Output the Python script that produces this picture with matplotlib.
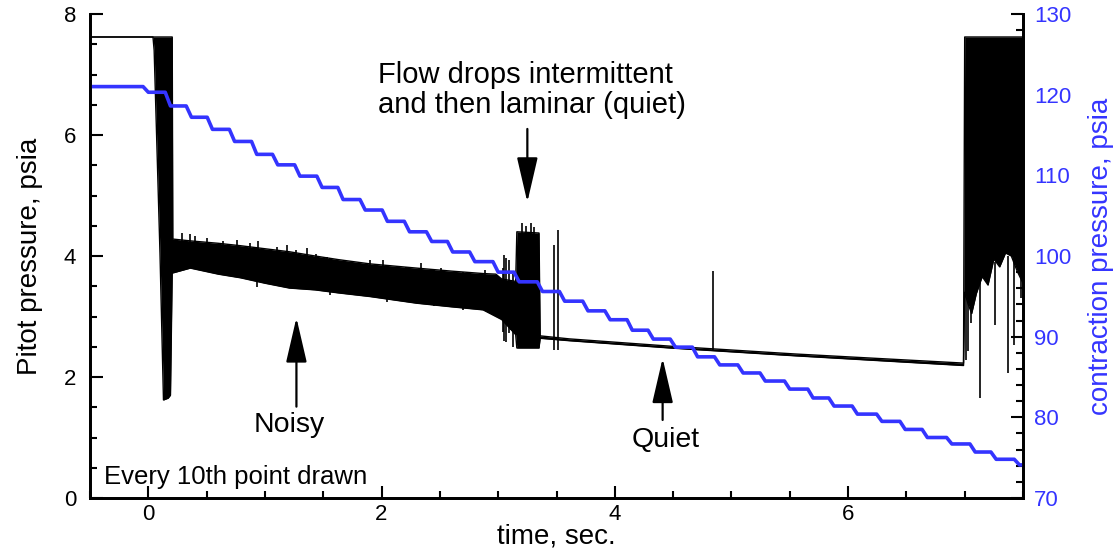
import numpy as np
import matplotlib
matplotlib.use('Agg')
import matplotlib.pyplot as plt

plt.rcParams['font.family'] = ['Liberation Sans', 'DejaVu Sans']

# Pitot pressure (every 10th point): upper/lower envelope of the trace, psia
env_t = [-0.5, 0.04, 0.05, 0.10, 0.13, 0.17, 0.19, 0.205, 0.21, 0.36, 0.60, 0.79,
         1.00, 1.21, 1.43, 1.63, 1.90, 2.30, 2.60, 2.87, 2.98, 3.03, 3.15, 3.16,
         3.35, 3.36, 3.61, 4.47, 5.55, 6.99, 7.00, 7.03, 7.06, 7.10, 7.15, 7.20,
         7.25, 7.30, 7.35, 7.40, 7.45, 7.50]
env_hi = [7.62, 7.62, 7.62, 7.62, 7.62, 7.62, 7.62, 7.62, 4.28, 4.25, 4.21, 4.17,
          4.12, 4.07, 4.00, 3.94, 3.87, 3.80, 3.75, 3.71, 3.70, 3.62, 3.58, 4.40,
          4.38, 2.68, 2.63, 2.51, 2.38, 2.23, 7.62, 7.62, 7.62, 7.62, 7.62, 7.62,
          7.62, 7.62, 7.62, 7.62, 7.62, 7.62]
env_lo = [7.62, 7.62, 7.40, 4.05, 1.62, 1.65, 1.70, 3.75, 3.72, 3.80, 3.70, 3.64,
          3.55, 3.47, 3.44, 3.39, 3.33, 3.22, 3.16, 3.11, 3.00, 2.95, 2.70, 2.48,
          2.48, 2.64, 2.60, 2.48, 2.35, 2.19, 3.40, 3.20, 3.05, 3.38, 3.66, 3.52,
          3.95, 3.82, 4.05, 4.00, 3.75, 3.55]

# peaks sticking out of the top of the noisy band
peak_t = [0.29, 0.36, 0.40, 0.50, 0.64, 0.76, 0.87, 0.94, 1.10, 1.19, 1.27, 1.36,
          1.44, 1.53, 1.90, 2.01, 2.21, 2.34, 2.51, 2.76, 2.89, 3.20, 3.24, 3.28, 3.31]
peak_p = [4.38, 4.36, 4.33, 4.29, 4.25, 4.26, 4.21, 4.24, 4.15, 4.18, 4.10, 4.13,
          4.04, 3.99, 3.93, 3.93, 3.82, 3.88, 3.80, 3.74, 3.77, 4.54, 4.50, 4.55, 4.48]
# dips below the bottom of the noisy band
dip_t = [0.93, 1.36, 1.56, 2.05, 2.45, 2.70]
dip_p = [3.49, 3.44, 3.36, 3.24, 3.17, 3.10]

# single spikes in the pitot trace
spike_t = [3.04, 3.05, 3.07, 3.09, 3.11, 3.13, 3.48, 3.51, 4.84,
           7.01, 7.03, 7.05, 7.13, 7.26, 7.37, 7.42, 7.48]
spike_lo = [2.75, 2.60, 2.58, 2.72, 2.78, 2.50, 2.45, 2.45, 2.44,
            2.28, 2.43, 2.90, 1.65, 2.86, 2.06, 2.53, 3.30]
spike_hi = [3.80, 4.02, 3.96, 3.93, 3.60, 3.70, 4.18, 4.43, 3.75,
            3.50, 3.50, 3.50, 3.60, 3.90, 4.00, 4.00, 3.70]

# contraction pressure, one level per step of the staircase, psia
step_t = [-0.5, 0.00, 0.19, 0.37, 0.55, 0.74, 0.93, 1.11, 1.30, 1.49, 1.67, 1.86, 2.05,
          2.24, 2.43, 2.61, 2.80, 3.00, 3.18, 3.38, 3.57, 3.77, 3.96, 4.15, 4.33, 4.52,
          4.71, 4.90, 5.10, 5.29, 5.50, 5.70, 5.88, 6.08, 6.29, 6.49, 6.68, 6.89, 7.09,
          7.27, 7.47]
step_p = [121.0, 120.3, 118.6, 117.2, 115.7, 114.2, 112.6, 111.3, 109.9, 108.5, 107.0,
          105.7, 104.3, 103.0, 101.8, 100.5, 99.3, 98.0, 96.8, 95.6, 94.4, 93.2, 92.1,
          90.8, 89.7, 88.7, 87.5, 86.5, 85.5, 84.5, 83.5, 82.4, 81.4, 80.4, 79.5, 78.5,
          77.5, 76.7, 75.7, 74.8, 74.1]

blue = '#3434ff'
ramp = 0.045

# staircase line: flat level, short ramp to the next level
blue_t, blue_p = [], []
for i in range(len(step_t)):
    t_end = step_t[i + 1] - ramp if i + 1 < len(step_t) else 7.5
    blue_t += [step_t[i], t_end]
    blue_p += [step_p[i], step_p[i]]

fig = plt.figure(figsize=(11.19, 5.5), dpi=100)
ax = fig.add_axes([90 / 1119, 52 / 550, 933 / 1119, 484 / 550])

ax.fill_between(env_t, env_lo, env_hi, color='k', lw=0)
ax.plot(env_t, env_hi, color='k', lw=1.0)
ax.plot(env_t, env_lo, color='k', lw=1.0)
ax.vlines(peak_t, np.interp(peak_t, env_t, env_lo), peak_p, color='k', lw=1.2)
ax.vlines(dip_t, dip_p, np.interp(dip_t, env_t, env_hi), color='k', lw=1.2)
ax.vlines(spike_t, spike_lo, spike_hi, color='k', lw=1.2)

ax.set_xlim(-0.5, 7.5)
ax.set_ylim(0, 8)
ax.set_xticks([0, 2, 4, 6])
ax.set_xticks(np.arange(-0.5, 7.51, 0.5), minor=True)
ax.set_yticks([0, 2, 4, 6, 8])
ax.set_yticks(np.arange(0, 8.01, 0.5), minor=True)
ax.tick_params(which='both', direction='in', width=1.5, labelsize=16, top=False, right=False)
ax.tick_params(which='major', length=9)
ax.tick_params(which='minor', length=5)
ax.tick_params(axis='y', pad=10)
ax.tick_params(axis='x', pad=4)
ax.set_xlabel('time, sec.', fontsize=20, labelpad=-1)
ax.set_ylabel('Pitot pressure, psia', fontsize=20, labelpad=15)

ax2 = ax.twinx()
ax2.plot(blue_t, blue_p, color=blue, lw=2.6)
ax2.set_ylim(70, 130)
ax2.set_yticks(np.arange(70, 131, 10))
ax2.set_yticks(np.arange(70, 131, 2), minor=True)
ax2.tick_params(which='both', direction='in', width=1.5, labelsize=16, labelcolor=blue, pad=8)
ax2.tick_params(which='major', length=9)
ax2.tick_params(which='minor', length=5)
ax2.set_ylabel('contraction pressure, psia', fontsize=20, color=blue, labelpad=12)

for a in (ax, ax2):
    a.spines['top'].set_visible(False)
    for s in ('left', 'right', 'bottom'):
        a.spines[s].set_linewidth(2)

arrow = dict(arrowstyle='-|>,head_length=28,head_width=6.5', mutation_scale=1,
             color='k', lw=1.6, shrinkA=0, shrinkB=0)
ax.annotate('', xy=(3.25, 4.89), xytext=(3.25, 6.10), arrowprops=arrow)
ax.annotate('', xy=(1.27, 2.98), xytext=(1.27, 1.51), arrowprops=arrow)
ax.annotate('', xy=(4.41, 2.31), xytext=(4.41, 1.29), arrowprops=arrow)

ax.text(1.97, 6.86, 'Flow drops intermittent', fontsize=21, va='baseline')
ax.text(1.97, 6.37, 'and then laminar (quiet)', fontsize=21, va='baseline')
ax.text(1.21, 1.09, 'Noisy', fontsize=20.5, ha='center', va='baseline')
ax.text(4.44, 0.84, 'Quiet', fontsize=20.5, ha='center', va='baseline')
ax.text(-0.383, 0.23, 'Every 10th point drawn', fontsize=18.5, va='baseline')

fig.savefig('out.png', dpi=100)
